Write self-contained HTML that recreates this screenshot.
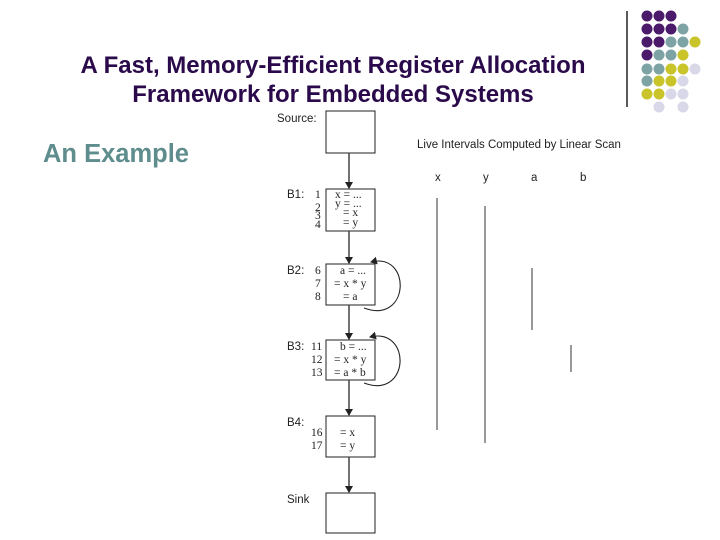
<!DOCTYPE html>
<html><head><meta charset="utf-8"><style>
html,body{margin:0;padding:0;background:#fff;}
body{width:720px;height:540px;overflow:hidden;position:relative;font-family:"Liberation Sans",sans-serif;}
.t{position:absolute;left:0;width:666px;text-align:center;color:#2a0a4a;font-size:24px;font-weight:bold;line-height:28px;}
</style></head><body>
<div class="t" style="top:52px;">A Fast, Memory-Efficient Register Allocation</div>
<div class="t" style="top:81px;">Framework for Embedded Systems</div>
<div style="position:absolute;left:43px;top:139px;color:#5f8c8c;font-size:25.5px;font-weight:bold;line-height:30px;">An Example</div>
<svg width="720" height="540" style="position:absolute;left:0;top:0" xmlns="http://www.w3.org/2000/svg">
<defs><marker id="ar" markerWidth="8" markerHeight="8" refX="6" refY="4" orient="auto" markerUnits="userSpaceOnUse"><path d="M0,0 L7,4 L0,8 z" fill="#222"/></marker></defs>
<line x1="627" y1="11" x2="627" y2="107" stroke="#000" stroke-width="1.3"/>
<g>
<circle cx="647" cy="16" r="5.5" fill="#4b1a6b"/><circle cx="659" cy="16" r="5.5" fill="#4b1a6b"/><circle cx="671" cy="16" r="5.5" fill="#4b1a6b"/>
<circle cx="647" cy="29" r="5.5" fill="#4b1a6b"/><circle cx="659" cy="29" r="5.5" fill="#4b1a6b"/><circle cx="671" cy="29" r="5.5" fill="#4b1a6b"/><circle cx="683" cy="29" r="5.5" fill="#7ea3a5"/>
<circle cx="647" cy="42" r="5.5" fill="#4b1a6b"/><circle cx="659" cy="42" r="5.5" fill="#4b1a6b"/><circle cx="671" cy="42" r="5.5" fill="#7ea3a5"/><circle cx="683" cy="42" r="5.5" fill="#7ea3a5"/><circle cx="695" cy="42" r="5.5" fill="#c8c42a"/>
<circle cx="647" cy="55" r="5.5" fill="#4b1a6b"/><circle cx="659" cy="55" r="5.5" fill="#7ea3a5"/><circle cx="671" cy="55" r="5.5" fill="#7ea3a5"/><circle cx="683" cy="55" r="5.5" fill="#c8c42a"/>
<circle cx="647" cy="69" r="5.5" fill="#7ea3a5"/><circle cx="659" cy="69" r="5.5" fill="#7ea3a5"/><circle cx="671" cy="69" r="5.5" fill="#c8c42a"/><circle cx="683" cy="69" r="5.5" fill="#c8c42a"/><circle cx="695" cy="69" r="5.5" fill="#d8d8e8"/>
<circle cx="647" cy="81" r="5.5" fill="#7ea3a5"/><circle cx="659" cy="81" r="5.5" fill="#c8c42a"/><circle cx="671" cy="81" r="5.5" fill="#c8c42a"/><circle cx="683" cy="81" r="5.5" fill="#d8d8e8"/>
<circle cx="647" cy="94" r="5.5" fill="#c8c42a"/><circle cx="659" cy="94" r="5.5" fill="#c8c42a"/><circle cx="671" cy="94" r="5.5" fill="#d8d8e8"/><circle cx="683" cy="94" r="5.5" fill="#d8d8e8"/>
<circle cx="659" cy="107" r="5.5" fill="#d8d8e8"/><circle cx="683" cy="107" r="5.5" fill="#d8d8e8"/>
</g>
<g fill="none" stroke="#222" stroke-width="1">
<rect x="326" y="111" width="49" height="42"/>
<rect x="326" y="189" width="49" height="42"/>
<rect x="326" y="264" width="49" height="41"/>
<rect x="326" y="340" width="49" height="40"/>
<rect x="326" y="416" width="49" height="41"/>
<rect x="326" y="493" width="49" height="40"/>
</g>
<g stroke="#444" stroke-width="1.5" marker-end="url(#ar)">
<line x1="349" y1="153" x2="349" y2="188"/>
<line x1="349" y1="231" x2="349" y2="263"/>
<line x1="349" y1="305" x2="349" y2="339"/>
<line x1="349" y1="380" x2="349" y2="415"/>
<line x1="349" y1="457" x2="349" y2="492"/>
</g>
<g fill="none" stroke="#222" stroke-width="1.1" marker-end="url(#ar)">
<path d="M364,308 C410,325 412,252 371,262"/>
<path d="M364,383 C410,400 412,327 370,337"/>
</g>
<g font-family="Liberation Sans,sans-serif" font-size="11.5" fill="#222">
<text x="277" y="122">Source:</text>
<text x="287" y="198">B1:</text>
<text x="287" y="274">B2:</text>
<text x="287" y="350">B3:</text>
<text x="287" y="426">B4:</text>
<text x="287" y="503">Sink</text>
<text x="417" y="148" font-size="11.5">Live Intervals Computed by Linear Scan</text>
<text x="435" y="181">x</text><text x="483" y="181">y</text><text x="531" y="181">a</text><text x="580" y="181">b</text>
</g>
<g font-family="Liberation Serif,serif" font-size="11.5" fill="#222">
<text x="315" y="198">1</text><text x="315" y="211">2</text><text x="315" y="219">3</text><text x="315" y="228">4</text>
<text x="335" y="198">x  = ...</text><text x="335" y="207">y  = ...</text><text x="343" y="216">= x</text><text x="343" y="226">= y</text>
<text x="315" y="274">6</text><text x="315" y="287">7</text><text x="315" y="300">8</text>
<text x="340" y="274">a = ...</text><text x="334" y="287">= x * y</text><text x="343" y="300">= a</text>
<text x="311" y="350">11</text><text x="311" y="363">12</text><text x="311" y="376">13</text>
<text x="340" y="350">b = ...</text><text x="334" y="363">= x * y</text><text x="334" y="376">= a * b</text>
<text x="311" y="436">16</text><text x="311" y="449">17</text>
<text x="340" y="436">= x</text><text x="340" y="449">= y</text>
</g>
<g stroke="#333" stroke-width="1">
<line x1="437" y1="198" x2="437" y2="430"/>
<line x1="485" y1="206" x2="485" y2="443"/>
<line x1="532" y1="268" x2="532" y2="330"/>
<line x1="571" y1="345" x2="571" y2="372"/>
</g>
</svg>
</body></html>
